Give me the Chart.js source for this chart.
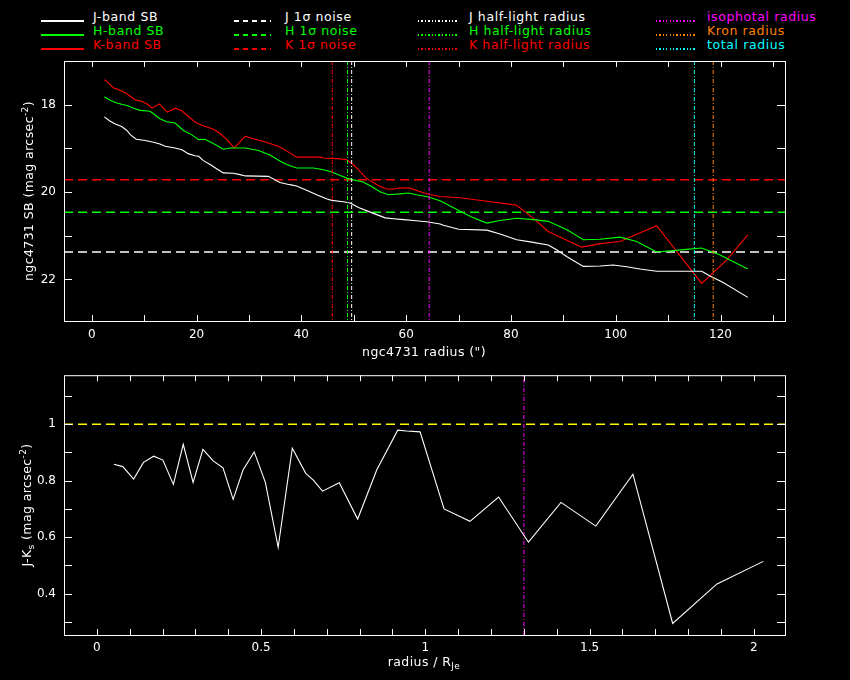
<!DOCTYPE html>
<html>
<head>
<meta charset="utf-8">
<script src="https://cdn.jsdelivr.net/npm/chart.js@4.4.0/dist/chart.umd.min.js"></script>
<style>
  html, body { margin: 0; padding: 0; background: #000; }
  #page { position: relative; width: 850px; height: 680px; background: #000; overflow: hidden;
          font-family: "DejaVu Sans", sans-serif; color: #fff; }
  canvas { position: absolute; left: 0; }
  .lbl { position: absolute; font-size: 12.5px; letter-spacing: 0.6px; line-height: 14px; white-space: nowrap; }
  .sample { position: absolute; height: 1.5px; }
  .title { position: absolute; font-size: 12.5px; letter-spacing: 0.4px; white-space: nowrap; line-height: 14px; }
  .title sub, .title sup { font-size: 9px; }
</style>
</head>
<body>
<div id="page">
  <div id="legend"></div>
  <canvas id="sbChart" width="850" height="360" style="top:0"></canvas>
  <canvas id="jkChart" width="850" height="320" style="top:360px"></canvas>
  <div class="title" style="left:424px; top:352px; transform:translate(-50%,-50%)">ngc4731 radius (")</div>
  <div class="title" style="left:27px; top:191px; transform:translate(-50%,-50%) rotate(-90deg)">ngc4731 SB (mag arcsec<sup>-2</sup>)</div>
  <div class="title" style="left:424px; top:664px; transform:translate(-50%,-50%)">radius / R<sub>Je</sub></div>
  <div class="title" style="left:27px; top:505px; transform:translate(-50%,-50%) rotate(-90deg)">J-K<sub>s</sub> (mag arcsec<sup>-2</sup>)</div>
</div>
<script>
// surface brightness profiles (radius in arcsec, SB in mag arcsec^-2)
const jRadius = [2.4, 3.5, 4.5, 5.7, 6.7, 7.4, 8.5, 10.2, 11.8, 13.0, 14.0, 15.9, 17.2, 18.4, 19.7, 20.4, 21.3, 22.6, 23.9, 25.1,
                 27.0, 28.3, 29.3, 33.7, 35.9, 37.8, 39.1, 41.0, 42.9, 44.9, 45.8, 48.0, 49.3, 50.9, 53.4, 56.0, 57.6, 59.5, 61.4, 63.9,
                 66.5, 67.1, 70.0, 75.4, 77.9, 81.1, 83.7, 87.1, 88.7, 90.7, 93.8, 97.0, 99.5, 102.1, 104.6, 107.8, 116.4, 118.0, 120.5, 125.2];
const jSB = [18.28, 18.38, 18.44, 18.50, 18.59, 18.69, 18.79, 18.82, 18.86, 18.90, 18.95, 18.99, 19.03, 19.12, 19.17, 19.18, 19.28, 19.37, 19.47, 19.56,
             19.57, 19.60, 19.63, 19.64, 19.78, 19.83, 19.86, 19.96, 20.06, 20.16, 20.19, 20.22, 20.25, 20.35, 20.47, 20.59, 20.61, 20.63, 20.65, 20.68,
             20.73, 20.76, 20.85, 20.87, 20.96, 21.09, 21.14, 21.21, 21.32, 21.48, 21.70, 21.69, 21.67, 21.71, 21.76, 21.81, 21.81, 21.92, 22.07, 22.41];

const hRadius = [2.4, 3.5, 4.8, 5.7, 6.7, 8.0, 9.2, 11.1, 11.6, 13.0, 14.3, 15.9, 17.5, 19.1, 20.4, 21.6, 23.2, 25.1, 26.4, 29.3,
                 31.8, 34.0, 35.9, 37.2, 39.1, 42.3, 44.2, 45.8, 47.4, 48.7, 49.9, 51.8, 53.4, 55.0, 56.6, 58.8, 60.4, 62.0, 63.9, 66.5,
                 70.3, 72.5, 75.4, 77.9, 81.1, 84.3, 87.1, 90.7, 93.8, 97.0, 100.8, 104.0, 107.8, 111.0, 113.5, 116.4, 119.9, 125.2];
const hSB = [17.82, 17.90, 17.96, 17.99, 18.02, 18.08, 18.13, 18.15, 18.19, 18.32, 18.39, 18.42, 18.59, 18.69, 18.80, 18.79, 18.89, 19.02, 18.99, 18.99,
             19.05, 19.15, 19.29, 19.37, 19.45, 19.45, 19.49, 19.54, 19.62, 19.68, 19.72, 19.77, 19.87, 19.99, 20.06, 20.04, 20.02, 20.06, 20.10, 20.20,
             20.44, 20.57, 20.71, 20.65, 20.60, 20.63, 20.67, 20.86, 21.09, 21.08, 21.03, 21.13, 21.37, 21.34, 21.31, 21.28, 21.44, 21.76];

const kRadius = [2.4, 3.2, 4.1, 5.4, 6.7, 7.6, 8.3, 9.5, 10.5, 11.5, 12.9, 14.4, 15.9, 17.2, 18.4, 20.0, 21.3, 23.2, 24.5, 25.8,
                 27.2, 29.3, 30.8, 32.8, 34.0, 35.9, 37.5, 39.1, 43.6, 44.2, 47.4, 48.7, 49.6, 50.6, 52.4, 54.4, 56.3, 57.6, 58.8, 60.7,
                 62.7, 64.6, 66.5, 70.3, 75.4, 79.2, 81.1, 84.3, 87.1, 93.5, 97.0, 100.8, 107.8, 116.4, 121.2, 125.2];
const kSB = [17.43, 17.50, 17.61, 17.67, 17.75, 17.83, 17.89, 17.92, 17.98, 18.08, 17.98, 18.17, 18.08, 18.14, 18.27, 18.42, 18.48, 18.56, 18.66, 18.80,
             18.99, 18.72, 18.78, 18.84, 18.89, 18.97, 19.08, 19.20, 19.20, 19.22, 19.24, 19.26, 19.34, 19.45, 19.68, 19.83, 19.93, 19.93, 19.90, 19.91,
             19.99, 20.06, 20.10, 20.13, 20.21, 20.27, 20.30, 20.60, 20.90, 21.26, 21.18, 21.13, 20.77, 22.09, 21.55, 20.98];

// 1 sigma noise levels
const jNoise = 21.37;
const hNoise = 20.46;
const kNoise = 19.72;

// radii (arcsec)
const jHalfLight = 49.6;
const hHalfLight = 48.8;
const kHalfLight = 45.9;
const isophotalRadius = 64.4;
const kronRadius = 118.6;
const totalRadius = 115.0;

// J-Ks colour profile (radius / R_Je)
const jkRadius = [0.052, 0.079, 0.112, 0.142, 0.173, 0.201, 0.233, 0.263, 0.293, 0.323, 0.354, 0.384, 0.415, 0.445, 0.479, 0.513, 0.552, 0.595, 0.636,
                  0.659, 0.687, 0.738, 0.794, 0.852, 0.916, 0.943, 0.984, 1.057, 1.136, 1.223, 1.314, 1.413, 1.519, 1.632, 1.753, 1.888, 2.029];
const jkColour = [0.858, 0.850, 0.806, 0.865, 0.887, 0.873, 0.787, 0.929, 0.794, 0.911, 0.870, 0.846, 0.734, 0.838, 0.902, 0.794, 0.564, 0.915, 0.826,
                  0.802, 0.763, 0.793, 0.664, 0.838, 0.979, 0.976, 0.973, 0.700, 0.656, 0.742, 0.582, 0.723, 0.639, 0.823, 0.294, 0.434, 0.514];
const jkReference = 1.0;
const isophotalScaled = 1.30;

// ticks and labels
const sbTicksX = [0, 10, 20, 30, 40, 50, 60, 70, 80, 90, 100, 110, 120, 130];
const sbLabelsX = [0, 20, 40, 60, 80, 100, 120];
const sbTicksY = [17, 18, 19, 20, 21, 22];
const sbLabelsY = [18, 20, 22];
const jkTicksX = [0, 0.1, 0.2, 0.3, 0.4, 0.5, 0.6, 0.7, 0.8, 0.9, 1, 1.1, 1.2, 1.3, 1.4, 1.5, 1.6, 1.7, 1.8, 1.9, 2];
const jkLabelsX = [0, 0.5, 1, 1.5, 2];
const jkTicksY = [0.3, 0.4, 0.5, 0.6, 0.7, 0.8, 0.9, 1, 1.1];
const jkLabelsY = [0.4, 0.6, 0.8, 1];

const WHITE = '#ffffff', GREEN = '#00ff00', RED = '#ff0000',
      MAGENTA = '#ff00ff', ORANGE = '#ff8000', CYAN = '#00ffff', YELLOW = '#ffff00';

// legend (pgplot style, drawn as html)
const legendItems = [
  ['J-band SB', WHITE, 'solid', 0, 0], ['H-band SB', GREEN, 'solid', 0, 1], ['K-band SB', RED, 'solid', 0, 2],
  ['J 1\u03c3 noise', WHITE, 'dash', 1, 0], ['H 1\u03c3 noise', GREEN, 'dash', 1, 1], ['K 1\u03c3 noise', RED, 'dash', 1, 2],
  ['J half-light radius', WHITE, 'dot', 2, 0], ['H half-light radius', GREEN, 'dot', 2, 1], ['K half-light radius', RED, 'dot', 2, 2],
  ['isophotal radius', MAGENTA, 'dot', 3, 0], ['Kron radius', ORANGE, 'dot', 3, 1], ['total radius', CYAN, 'dot', 3, 2]
];
const legendCols = [[41, 84, 93], [234, 271, 285], [418, 457, 469], [656, 695, 707]];
const legend = document.getElementById('legend');
legendItems.forEach(([text, color, style, col, row]) => {
  const [x0, x1, tx] = legendCols[col];
  const baseY = 21 + row * 14;
  const s = document.createElement('div');
  s.className = 'sample';
  s.style.left = x0 + 'px';
  s.style.width = (x1 - x0) + 'px';
  s.style.top = (baseY - 1) + 'px';
  if (style === 'solid') s.style.background = color;
  else if (style === 'dash') s.style.background = `repeating-linear-gradient(90deg, ${color} 0 5px, transparent 5px 9px)`;
  else s.style.background = `repeating-linear-gradient(90deg, ${color} 0 1.3px, transparent 1.3px 3.4px)`;
  legend.appendChild(s);
  const t = document.createElement('div');
  t.className = 'lbl';
  t.style.left = tx + 'px';
  t.style.top = (baseY - 11) + 'px';
  t.style.color = color;
  t.textContent = text;
  legend.appendChild(t);
});

Chart.defaults.font.family = 'DejaVu Sans';
Chart.defaults.color = WHITE;

// box with inward ticks on all four sides, like pgplot
function boxPlugin(xTickLen, yTickLen) {
  return {
    id: 'box',
    afterDraw(chart) {
      const { ctx, chartArea: a, scales: { x, y } } = chart;
      ctx.save();
      ctx.strokeStyle = WHITE;
      ctx.lineWidth = 1;
      ctx.strokeRect(a.left + 0.5, a.top + 0.5, a.right - a.left, a.bottom - a.top);
      ctx.beginPath();
      x.ticks.forEach(t => {
        const px = Math.round(x.getPixelForValue(t.value)) + 0.5;
        ctx.moveTo(px, a.bottom); ctx.lineTo(px, a.bottom - xTickLen);
        ctx.moveTo(px, a.top); ctx.lineTo(px, a.top + xTickLen);
      });
      y.ticks.forEach(t => {
        const py = Math.round(y.getPixelForValue(t.value)) + 0.5;
        ctx.moveTo(a.left, py); ctx.lineTo(a.left + yTickLen, py);
        ctx.moveTo(a.right, py); ctx.lineTo(a.right - yTickLen, py);
      });
      ctx.stroke();
      ctx.restore();
    }
  };
}

function points(xs, ys) {
  return xs.map((v, i) => ({ x: v, y: ys[i] }));
}
function curve(xs, ys, color) {
  return { data: points(xs, ys), borderColor: color, borderWidth: 1.1, showLine: true, pointRadius: 0, tension: 0 };
}
function hline(val, x0, x1, color) {
  return { data: [{ x: x0, y: val }, { x: x1, y: val }], borderColor: color, borderWidth: 1.5,
           borderDash: [9, 5], showLine: true, pointRadius: 0 };
}
function vline(val, y0, y1, color) {
  return { data: [{ x: val, y: y0 }, { x: val, y: y1 }], borderColor: color, borderWidth: 1,
           borderDash: [4, 2, 1, 2], showLine: true, pointRadius: 0 };
}
function axis(min, max, tickVals, labelVals, fitKey, fitSize, pad, reverse) {
  return {
    type: 'linear', min: min, max: max, reverse: !!reverse,
    afterBuildTicks: s => { s.ticks = tickVals.map(v => ({ value: v })); },
    afterFit: s => { s[fitKey] = fitSize; },
    ticks: { color: WHITE, font: { size: 12 }, padding: pad, autoSkip: false, maxRotation: 0,
             callback: v => labelVals.includes(v) ? String(v) : '' },
    grid: { display: false, drawTicks: false },
    border: { display: false }
  };
}
const baseOptions = {
  responsive: false, animation: false, devicePixelRatio: 1, events: [],
  plugins: { legend: { display: false }, tooltip: { enabled: false } }
};

const sbXMin = -5.3, sbXMax = 132.3, sbYMin = 17, sbYMax = 22.95;
new Chart(document.getElementById('sbChart'), {
  type: 'scatter',
  data: {
    datasets: [
      vline(jHalfLight, sbYMin, sbYMax, WHITE),
      vline(hHalfLight, sbYMin, sbYMax, GREEN),
      vline(kHalfLight, sbYMin, sbYMax, RED),
      vline(isophotalRadius, sbYMin, sbYMax, MAGENTA),
      vline(kronRadius, sbYMin, sbYMax, ORANGE),
      vline(totalRadius, sbYMin, sbYMax, CYAN),
      curve(jRadius, jSB, WHITE),
      curve(hRadius, hSB, GREEN),
      curve(kRadius, kSB, RED),
      hline(jNoise, sbXMin, sbXMax, WHITE),
      hline(hNoise, sbXMin, sbXMax, GREEN),
      hline(kNoise, sbXMin, sbXMax, RED)
    ]
  },
  options: {
    ...baseOptions,
    layout: { padding: { top: 61, right: 65, left: 0, bottom: 0 } },
    scales: {
      x: axis(sbXMin, sbXMax, sbTicksX, sbLabelsX, 'height', 39, 7),
      y: axis(sbYMin, sbYMax, sbTicksY, sbLabelsY, 'width', 64, 8, true)
    }
  },
  plugins: [boxPlugin(6, 8)]
});

const jkXMin = -0.1, jkXMax = 2.095, jkYMin = 0.253, jkYMax = 1.174;
new Chart(document.getElementById('jkChart'), {
  type: 'scatter',
  data: {
    datasets: [
      curve(jkRadius, jkColour, WHITE),
      vline(isophotalScaled, jkYMin, jkYMax, MAGENTA),
      hline(jkReference, jkXMin, jkXMax, YELLOW)
    ]
  },
  options: {
    ...baseOptions,
    layout: { padding: { top: 15, right: 65, left: 0, bottom: 0 } },
    scales: {
      x: axis(jkXMin, jkXMax, jkTicksX, jkLabelsX, 'height', 45, 6),
      y: axis(jkYMin, jkYMax, jkTicksY, jkLabelsY, 'width', 64, 8)
    }
  },
  plugins: [boxPlugin(6, 8)]
});
</script>
</body>
</html>
